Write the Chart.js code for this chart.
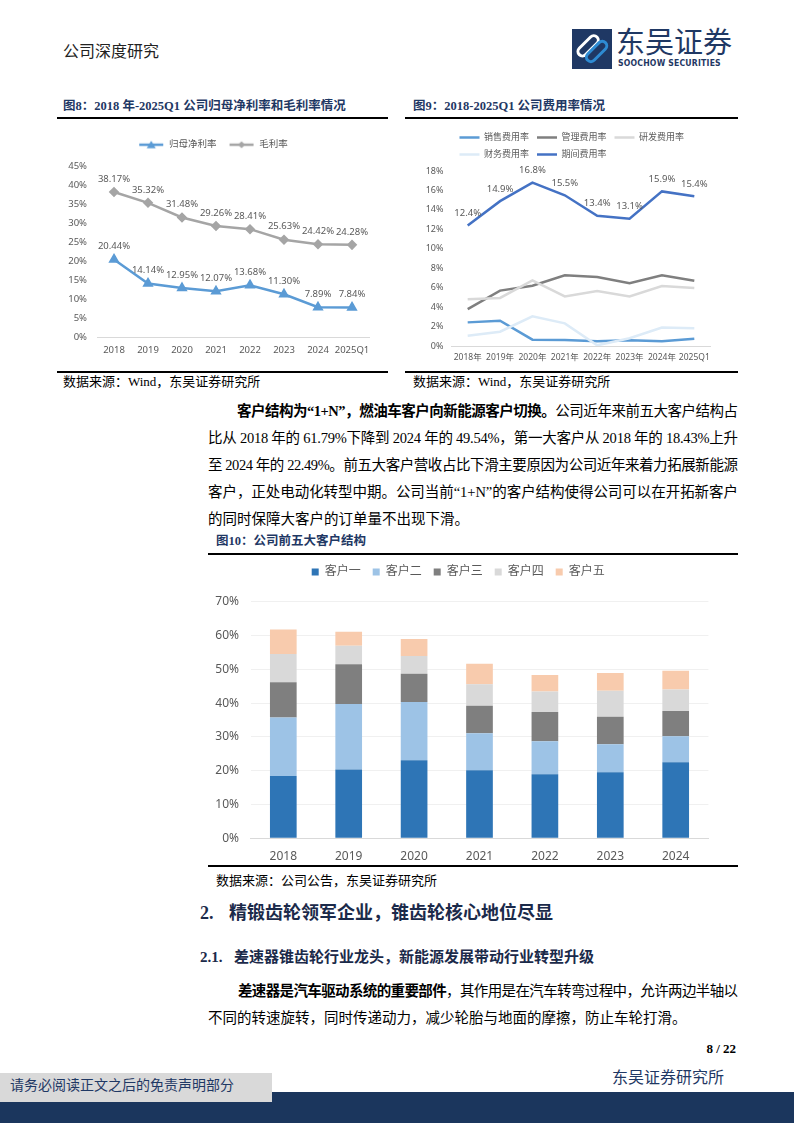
<!DOCTYPE html>
<html lang="zh-CN">
<head>
<meta charset="utf-8">
<title>公司深度研究 8/22</title>
<script src="https://cdn.jsdelivr.net/npm/chart.js@4.4.1/dist/chart.umd.min.js"></script>
<style>
  html, body { margin: 0; padding: 0; background: #fff; }
  #page { position: relative; width: 794px; height: 1123px; overflow: hidden;
          font-family: "Liberation Serif", "Noto Sans CJK SC", serif; color: #000; }
  .t { position: absolute; white-space: nowrap; line-height: 1.2; }
  .rule { position: absolute; height: 2px; background: #000; }
  .fig { font-size: 12.5px; font-weight: bold; color: #1F3864; }
  .src { font-size: 13px; }
  .body { font-size: 14.5px; }
  canvas { position: absolute; }
</style>
</head>
<body>
<div id="page">

  <!-- cabeçalho -->
  <div class="t" style="left:63px;top:42px;font-size:16px;color:#222;">公司深度研究</div>
  <svg style="position:absolute;left:572px;top:29px" width="40" height="40" viewBox="0 0 40 40">
    <rect width="40" height="40" fill="#1F3864"/>
    <g transform="rotate(-45 20 20)">
      <rect x="7" y="10.5" width="25" height="9" rx="4.5" fill="none" stroke="#fff" stroke-width="3"/>
      <rect x="9" y="20.5" width="25" height="9" rx="4.5" fill="none" stroke="#2E8BD3" stroke-width="3"/>
    </g>
  </svg>
  <div class="t" style="left:616px;top:23px;font-size:29px;color:#1F3864;font-family:'Noto Sans CJK SC';line-height:1.2;">东吴证券</div>
  <div class="t" style="left:618px;top:58px;font-size:8.6px;font-weight:bold;color:#1F3864;font-family:'DejaVu Sans Condensed','Noto Sans';letter-spacing:0.2px;">SOOCHOW SECURITIES</div>

  <!-- figuras 8 e 9 -->
  <div class="t fig" style="left:63px;top:99px;">图8：2018 年-2025Q1 公司归母净利率和毛利率情况</div>
  <div class="rule" style="left:57px;top:117px;width:331px;"></div>
  <canvas id="chart8" width="331" height="240" style="left:57px;top:125px;width:331px;height:240px;"></canvas>
  <div class="rule" style="left:57px;top:371px;width:331px;"></div>
  <div class="t src" style="left:63px;top:374px;">数据来源：Wind，东吴证券研究所</div>

  <div class="t fig" style="left:413px;top:99px;">图9：2018-2025Q1 公司费用率情况</div>
  <div class="rule" style="left:405px;top:117px;width:333px;"></div>
  <canvas id="chart9" width="333" height="245" style="left:405px;top:125px;width:333px;height:245px;"></canvas>
  <div class="rule" style="left:405px;top:371px;width:333px;"></div>
  <div class="t src" style="left:413px;top:374px;">数据来源：Wind，东吴证券研究所</div>

  <!-- texto -->
  <div class="t body jl" data-w="501" style="left:237px;top:403px;"><b>客户结构为“1+N”，燃油车客户向新能源客户切换。</b>公司近年来前五大客户结构占</div>
  <div class="t body jl" data-w="530" style="left:208px;top:430px;">比从 2018 年的 61.79%下降到 2024 年的 49.54%，第一大客户从 2018 年的 18.43%上升</div>
  <div class="t body jl" data-w="530" style="left:208px;top:457px;">至 2024 年的 22.49%。前五大客户营收占比下滑主要原因为公司近年来着力拓展新能源</div>
  <div class="t body jl" data-w="530" style="left:208px;top:484px;">客户，正处电动化转型中期。公司当前“1+N”的客户结构使得公司可以在开拓新客户</div>
  <div class="t body" style="left:208px;top:511px;">的同时保障大客户的订单量不出现下滑。</div>

  <!-- figura 10 -->
  <div class="t fig" style="left:216px;top:534px;">图10：公司前五大客户结构</div>
  <div class="rule" style="left:208px;top:553px;width:530px;"></div>
  <canvas id="chart10" width="530" height="306" style="left:208px;top:556px;width:530px;height:306px;"></canvas>
  <div class="rule" style="left:208px;top:865px;width:530px;"></div>
  <div class="t src" style="left:216px;top:873px;">数据来源：公司公告，东吴证券研究所</div>

  <div class="t" style="left:200px;top:903px;font-size:18px;font-weight:bold;color:#1B2A4A;">2.</div>
  <div class="t" style="left:229px;top:903px;font-size:18px;font-weight:bold;color:#1B2A4A;">精锻齿轮领军企业，锥齿轮核心地位尽显</div>
  <div class="t" style="left:200px;top:948px;font-size:15px;font-weight:bold;color:#1B2A4A;">2.1.</div>
  <div class="t" style="left:234px;top:948px;font-size:15px;font-weight:bold;color:#1B2A4A;">差速器锥齿轮行业龙头，新能源发展带动行业转型升级</div>

  <div class="t body jl" data-w="500" style="left:238px;top:983px;"><b>差速器是汽车驱动系统的重要部件</b>，其作用是在汽车转弯过程中，允许两边半轴以</div>
  <div class="t body" style="left:208px;top:1010px;">不同的转速旋转，同时传递动力，减少轮胎与地面的摩擦，防止车轮打滑。</div>

  <!-- rodapé -->
  <div class="t" style="right:58px;top:1041px;font-size:13px;font-weight:bold;">8 / 22</div>
  <div class="t" style="left:612px;top:1068px;font-size:16px;color:#1F3864;">东吴证券研究所</div>
  <div style="position:absolute;left:0;top:1092px;width:794px;height:31px;background:#1B365D;"></div>
  <div style="position:absolute;left:0;top:1073px;width:272px;height:29px;background:#D9D9D9;"></div>
  <div class="t" style="left:10px;top:1078px;font-size:14px;color:#1F3864;">请务必阅读正文之后的免责声明部分</div>
</div>

<script>
// DADOS - FIGURA 8 (margens)
const years8 = ['2018', '2019', '2020', '2021', '2022', '2023', '2024', '2025Q1'];
const netMargin = [20.44, 14.14, 12.95, 12.07, 13.68, 11.30, 7.89, 7.84];
const grossMargin = [38.17, 35.32, 31.48, 29.26, 28.41, 25.63, 24.42, 24.28];
const marginTicks = [0, 5, 10, 15, 20, 25, 30, 35, 40, 45];

// DADOS - FIGURA 9 (taxas de despesa)
const years9 = ['2018年', '2019年', '2020年', '2021年', '2022年', '2023年', '2024年', '2025Q1'];
const salesRate = [2.43, 2.60, 0.65, 0.62, 0.48, 0.58, 0.48, 0.75];
const adminRate = [3.80, 5.70, 6.20, 7.27, 7.10, 6.45, 7.27, 6.72];
const rdRate = [4.80, 4.94, 6.75, 5.10, 5.66, 5.10, 6.17, 5.96];
const financeRate = [1.06, 1.47, 3.05, 2.33, 0.07, 0.80, 1.90, 1.82];
const periodRate = [12.4, 14.9, 16.8, 15.5, 13.4, 13.1, 15.9, 15.4];
const expenseTicks = [0, 2, 4, 6, 8, 10, 12, 14, 16, 18];

// DADOS - FIGURA 10 (cinco maiores clientes)
const years10 = ['2018', '2019', '2020', '2021', '2022', '2023', '2024'];
const customer1 = [18.43, 20.35, 23.10, 20.15, 18.96, 19.56, 22.49];
const customer2 = [17.30, 19.35, 17.20, 10.95, 9.78, 8.29, 7.70];
const customer3 = [10.47, 11.80, 8.40, 8.10, 8.59, 8.10, 7.50];
const customer4 = [8.30, 5.50, 5.20, 6.40, 6.13, 7.70, 6.30];
const customer5 = [7.29, 4.10, 5.10, 6.05, 4.84, 5.25, 5.55];
const customerTicks = [0, 10, 20, 30, 40, 50, 60, 70];

Chart.defaults.font.family = '"Noto Sans", "Noto Sans CJK SC", sans-serif';
Chart.defaults.color = '#595959';
Chart.defaults.animation = false;
Chart.defaults.plugins.tooltip.enabled = false;

// espaço extra entre a legenda e a área do gráfico
const legendGap = {
    id: 'legendGap',
    beforeInit(chart, args, opts) {
        const legend = chart.legend;
        if (!legend) return;
        const fit = legend.fit;
        legend.fit = function () {
            fit.call(this);
            this.height += opts.gap || 0;
        };
    }
};

// rótulos de valor acima dos pontos
const valueLabels = {
    id: 'valueLabels',
    afterDatasetsDraw(chart, args, opts) {
        const ctx = chart.ctx;
        chart.data.datasets.forEach((ds, i) => {
            if (!ds.showLabels) return;
            const meta = chart.getDatasetMeta(i);
            ctx.save();
            ctx.font = (opts.size || 10) + 'px "Noto Sans", sans-serif';
            ctx.fillStyle = opts.color || '#595959';
            ctx.textAlign = 'center';
            ctx.textBaseline = 'middle';
            meta.data.forEach((pt, j) => {
                ctx.fillText(ds.data[j].toFixed(opts.digits) + '%', pt.x, pt.y - opts.offset);
            });
            ctx.restore();
        });
    }
};

// ícone de legenda: linha com marcador
function lineIcon(color, marker) {
    const c = document.createElement('canvas');
    c.width = 26;
    c.height = 10;
    const g = c.getContext('2d');
    g.strokeStyle = color;
    g.lineWidth = 2.5;
    g.beginPath();
    g.moveTo(1, 5);
    g.lineTo(25, 5);
    g.stroke();
    g.fillStyle = color;
    g.beginPath();
    if (marker === 'triangle') {
        g.moveTo(13, 1); g.lineTo(17.5, 8.5); g.lineTo(8.5, 8.5);
    } else {
        g.moveTo(13, 1.5); g.lineTo(16.5, 5); g.lineTo(13, 8.5); g.lineTo(9.5, 5);
    }
    g.closePath();
    g.fill();
    return c;
}

// justifica as linhas do texto corrido
function justifyLines() {
    document.querySelectorAll('.jl').forEach(el => {
        const target = parseFloat(el.dataset.w);
        el.style.letterSpacing = '0px';
        const w = el.getBoundingClientRect().width;
        const n = el.textContent.length;
        el.style.letterSpacing = ((target - w) / (n - 1)) + 'px';
    });
}

document.addEventListener('DOMContentLoaded', () => {

    justifyLines();

    // GRÁFICO 8: LINHAS (MARGENS)
    const blue8 = '#5B9BD5';
    const gray8 = '#A5A5A5';
    const icons8 = [lineIcon(blue8, 'triangle'), lineIcon(gray8, 'diamond')];
    const ctx8 = document.getElementById('chart8');
    if (ctx8) {
        new Chart(ctx8, {
            type: 'line',
            data: {
                labels: years8,
                datasets: [{
                    label: '归母净利率',
                    data: netMargin,
                    borderColor: blue8,
                    backgroundColor: blue8,
                    borderWidth: 2.5,
                    pointStyle: 'triangle',
                    pointRadius: 4,
                    pointBackgroundColor: blue8,
                    pointBorderColor: blue8,
                    showLabels: true
                }, {
                    label: '毛利率',
                    data: grossMargin,
                    borderColor: gray8,
                    backgroundColor: gray8,
                    borderWidth: 2.5,
                    pointStyle: 'rectRot',
                    pointRadius: 3.5,
                    pointBackgroundColor: gray8,
                    pointBorderColor: gray8,
                    showLabels: true
                }]
            },
            options: {
                responsive: false,
                layout: { padding: { top: 3, right: 19, bottom: 0, left: 0 } },
                scales: {
                    x: {
                        offset: true,
                        grid: { display: false, drawTicks: false },
                        border: { color: '#D9D9D9' },
                        ticks: { font: { size: 9.5 }, padding: 7, maxRotation: 0, minRotation: 0, autoSkip: false },
                        afterFit: s => { s.height = 27.7; }
                    },
                    y: {
                        min: marginTicks[0],
                        max: marginTicks[marginTicks.length - 1],
                        grid: { display: false, drawTicks: false },
                        border: { display: false },
                        ticks: { stepSize: marginTicks[1] - marginTicks[0], font: { size: 9.5 }, padding: 10, callback: v => v + '%' },
                        afterFit: s => { s.width = 40; }
                    }
                },
                plugins: {
                    legend: {
                        labels: {
                            usePointStyle: true,
                            pointStyleWidth: 26,
                            boxHeight: 9.5,
                            padding: 12,
                            font: { size: 9.5 },
                            color: '#595959',
                            generateLabels: chart => {
                                const items = Chart.defaults.plugins.legend.labels.generateLabels(chart);
                                items.forEach(it => { it.pointStyle = icons8[it.datasetIndex]; });
                                return items;
                            }
                        }
                    },
                    legendGap: { gap: 6.5 },
                    valueLabels: { offset: 13, digits: 2, size: 9.5 }
                }
            },
            plugins: [legendGap, valueLabels]
        });
    }

    // GRÁFICO 9: LINHAS (TAXAS DE DESPESA)
    const series9 = [
        { label: '销售费用率', data: salesRate, color: '#5B9BD5' },
        { label: '管理费用率', data: adminRate, color: '#7F7F7F' },
        { label: '研发费用率', data: rdRate, color: '#D9D9D9' },
        { label: '财务费用率', data: financeRate, color: '#DDEBF7' },
        { label: '期间费用率', data: periodRate, color: '#4472C4' }
    ];
    const ctx9 = document.getElementById('chart9');
    if (ctx9) {
        new Chart(ctx9, {
            type: 'line',
            data: {
                labels: years9,
                datasets: series9.map((s, i) => ({
                    label: s.label,
                    data: s.data,
                    borderColor: s.color,
                    backgroundColor: s.color,
                    borderWidth: 2.5,
                    pointRadius: 0,
                    order: series9.length - i,
                    showLabels: i === series9.length - 1
                }))
            },
            options: {
                responsive: false,
                layout: { padding: { top: 0, right: 27.5, bottom: 0, left: 0 } },
                scales: {
                    x: {
                        offset: true,
                        grid: { display: false, drawTicks: false },
                        border: { color: '#D9D9D9' },
                        ticks: { font: { size: 8.5 }, padding: 6, maxRotation: 0, minRotation: 0, autoSkip: false },
                        afterFit: s => { s.height = 24; }
                    },
                    y: {
                        min: expenseTicks[0],
                        max: expenseTicks[expenseTicks.length - 1],
                        grid: { display: false, drawTicks: false },
                        border: { display: false },
                        ticks: { stepSize: expenseTicks[1] - expenseTicks[0], font: { size: 9 }, padding: 8, callback: v => v + '%' },
                        afterFit: s => { s.width = 46.5; }
                    }
                },
                plugins: {
                    legend: {
                        fullSize: false,
                        align: 'start',
                        labels: {
                            boxWidth: 20,
                            boxHeight: 2.5,
                            padding: 8,
                            font: { size: 9 },
                            color: '#595959',
                            sort: (a, b) => a.datasetIndex - b.datasetIndex,
                            generateLabels: chart => {
                                const items = Chart.defaults.plugins.legend.labels.generateLabels(chart);
                                items.forEach(it => { it.lineWidth = 0; });
                                return items;
                            }
                        }
                    },
                    legendGap: { gap: 2 },
                    valueLabels: { offset: 12, digits: 1, size: 9.5 }
                }
            },
            plugins: [legendGap, valueLabels]
        });
    }

    // GRÁFICO 10: BARRAS EMPILHADAS (CLIENTES)
    const series10 = [
        { label: '客户一', data: customer1, color: '#2E75B6' },
        { label: '客户二', data: customer2, color: '#9DC3E6' },
        { label: '客户三', data: customer3, color: '#7F7F7F' },
        { label: '客户四', data: customer4, color: '#D9D9D9' },
        { label: '客户五', data: customer5, color: '#F8CBAD' }
    ];
    const ctx10 = document.getElementById('chart10');
    if (ctx10) {
        new Chart(ctx10, {
            type: 'bar',
            data: {
                labels: years10,
                datasets: series10.map(s => ({
                    label: s.label,
                    data: s.data,
                    backgroundColor: s.color,
                    borderWidth: 0,
                    barPercentage: 0.408,
                    categoryPercentage: 1
                }))
            },
            options: {
                responsive: false,
                layout: { padding: { top: -2, right: 29.6, bottom: 0, left: 0 } },
                scales: {
                    x: {
                        stacked: true,
                        grid: { display: false, drawTicks: false },
                        border: { color: '#D9D9D9' },
                        ticks: { font: { size: 12 }, padding: 11 },
                        afterFit: s => { s.height = 23.7; }
                    },
                    y: {
                        stacked: true,
                        min: customerTicks[0],
                        max: customerTicks[customerTicks.length - 1],
                        grid: { color: '#F0F0F0', drawTicks: false },
                        border: { display: false },
                        ticks: { stepSize: customerTicks[1] - customerTicks[0], font: { size: 12 }, padding: 11.6, callback: v => v + '%' },
                        afterFit: s => { s.width = 42.6; }
                    }
                },
                plugins: {
                    legend: {
                        labels: {
                            boxWidth: 7,
                            boxHeight: 7,
                            padding: 12,
                            font: { size: 12 },
                            color: '#595959'
                        }
                    },
                    legendGap: { gap: 13.7 }
                }
            },
            plugins: [legendGap]
        });
    }
});
</script>
</body>
</html>
